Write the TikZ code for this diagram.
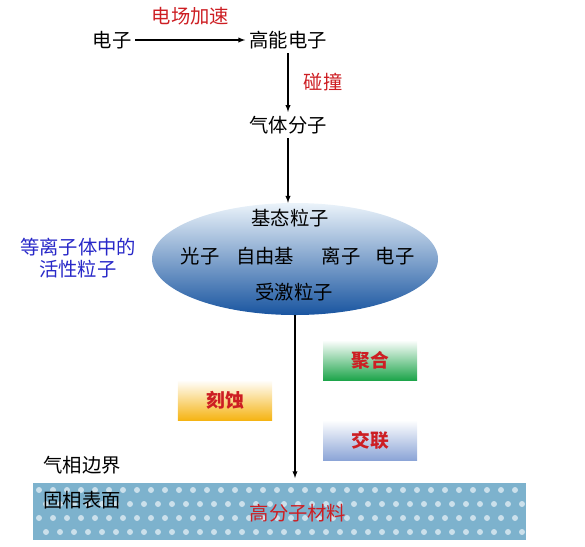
\documentclass[tikz,border=0pt]{standalone}
\usepackage{fontspec}
\setmainfont{Noto Sans CJK SC}
\usetikzlibrary{shapes.geometric}
\definecolor{labred}{RGB}{205,30,35}
\definecolor{labblue}{RGB}{40,40,200}
\definecolor{clouddark}{RGB}{25,85,160}
\definecolor{cloudmid}{RGB}{85,145,205}
\definecolor{cloudlight}{RGB}{235,243,250}
\definecolor{boxgreen}{RGB}{30,165,75}
\definecolor{boxorange}{RGB}{245,180,20}
\definecolor{boxblue}{RGB}{140,165,215}
\definecolor{surface}{RGB}{125,178,205}
\tikzset{
  plain/.style={font=\fontsize{16.5}{19}\selectfont},
  redlab/.style={plain,text=labred},
  bluelab/.style={plain,text=labblue,align=center},
  procbox/.style={minimum width=2.82cm,minimum height=1.2cm,inner sep=0pt,
    font=\fontsize{16}{19}\selectfont\bfseries,text=labred},
  flow/.style={-latex,line width=1pt}
}
\begin{document}
\begin{tikzpicture}[x=0.03cm,y=-0.03cm]
  \useasboundingbox (0,0) rectangle (585,546);
  \node[plain] (e) at (112,40) {电子};
  \node[plain] (he) at (288,40) {高能电子};
  \node[plain] (gas) at (288,125) {气体分子};
  \draw[flow] (e) -- node[redlab,midway,yshift=0.72cm]{电场加速} (he);
  \draw[flow] (he) -- node[redlab,midway,xshift=1.05cm]{碰撞} (gas);
  \node[ellipse,minimum width=8.58cm,minimum height=3.36cm,
    top color=cloudlight,middle color=cloudmid,bottom color=clouddark] (cloud) at (295,259) {};
  \draw[flow] (gas) -- (gas |- cloud.north);
  \node[plain] (ground) at (290,218) {基态粒子};
  \node[plain] (photon) at (200,256) {光子};
  \node[plain] (radical) at (265,256) {自由基};
  \node[plain] (ion) at (341,256) {离子};
  \node[plain] (elec) at (395,256) {电子};
  \node[plain] (excited) at (294,292) {受激粒子};
  \node[bluelab] (active) at (78,258) {等离子体中的\\活性粒子};
  \node[procbox,top color=white,bottom color=boxgreen] (poly) at (370,360) {聚合};
  \node[procbox,top color=white,bottom color=boxorange] (etch) at (225,400) {刻蚀};
  \node[procbox,top color=white,bottom color=boxblue] (cross) at (370,440) {交联};
  \node[minimum width=14.79cm,minimum height=1.71cm,fill=surface] (base) at (279.5,511.5) {};
  \foreach \r in {0,...,3}
    \foreach \c in {0,...,34}
      \fill[white,opacity=.6] ({39+\c*14+mod(\r,2)*7},{490+\r*14}) circle (0.09cm);
  \draw[flow] (cloud.south) -- ([yshift=4pt]cloud.south |- base.north);
  \node[plain] (gasside) at (82,465) {气相边界};
  \node[plain] (solid) at (82,500) {固相表面};
  \node[redlab] (polymer) at (298,513) {高分子材料};
\end{tikzpicture}
\end{document}
